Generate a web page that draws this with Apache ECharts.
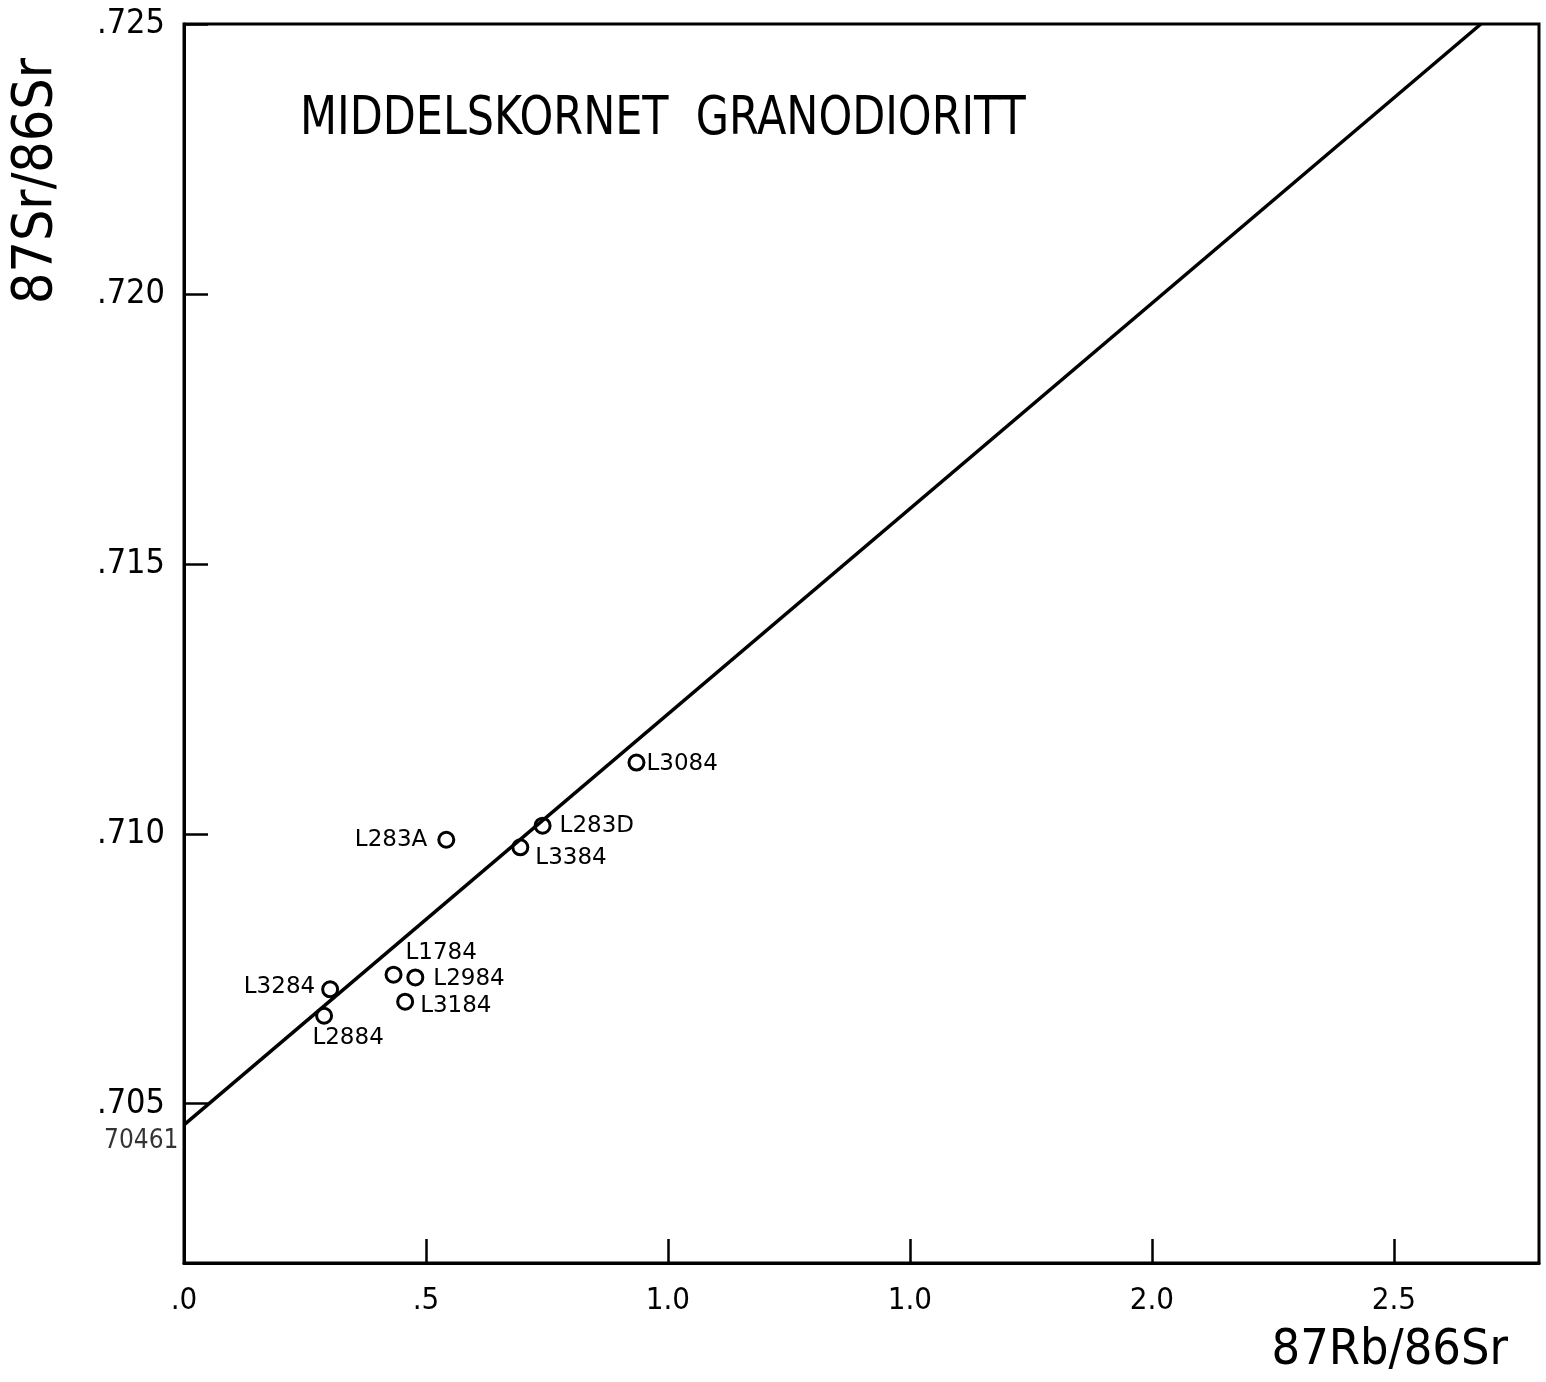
<!DOCTYPE html>
<html>
<head>
<meta charset="utf-8">
<title>Middelskornet granodioritt – Rb-Sr isokron</title>
<script src="https://cdn.jsdelivr.net/npm/echarts@6/dist/echarts.min.js"></script>
<style>
  html, body { margin: 0; padding: 0; background: #fff; }
  #chart { width: 1546px; height: 1382px; }
</style>
</head>
<body>
<div id="chart"></div>
<script>
// Sample names and measured isotope ratios
const sampleNames = ['L3084', 'L283D', 'L3384', 'L283A', 'L3284', 'L2884', 'L1784', 'L2984', 'L3184'];
const rbSr = [0.935, 0.741, 0.695, 0.542, 0.302, 0.2895, 0.433, 0.478, 0.457];   // 87Rb/86Sr
const srSr = [0.71132, 0.71015, 0.70975, 0.70989, 0.70712, 0.70663, 0.70739, 0.70734, 0.70689]; // 87Sr/86Sr

// Isochron end points (initial ratio at x = 0)
const isochronX = [0, 2.68];
const isochronY = [0.70461, 0.725];
const interceptLabel = '70461';

// Axis ticks and their printed labels
const xTickValues = [0, 0.5, 1.0, 1.5, 2.0, 2.5];
const xTickLabels = ['.0', '.5', '1.0', '1.0', '2.0', '2.5'];
const yTickValues = [0.705, 0.710, 0.715, 0.720, 0.725];
const yTickLabels = ['.705', '.710', '.715', '.720', '.725'];

const titleText = 'MIDDELSKORNET  GRANODIORITT';
const xName = '87Rb/86Sr';
const yName = '87Sr/86Sr';

// Where each sample label sits relative to its circle
const labelPlacement = {
  L3084: { position: 'right', distance: 1, offset: [0, 1] },
  L283D: { position: 'right', distance: 8, offset: [0, 0] },
  L3384: { position: 'right', distance: 6, offset: [0, 11] },
  L283A: { position: 'left', distance: 10, offset: [0, 0] },
  L3284: { position: 'left', distance: 6, offset: [0, -2] },
  L2884: { position: 'bottom', distance: 2, offset: [24, 0] },
  L1784: { position: 'right', distance: 3, offset: [0, -22] },
  L2984: { position: 'right', distance: 9, offset: [0, 2] },
  L3184: { position: 'right', distance: 6, offset: [0, 4] }
};

const INK = '#000';
const COND = '"DejaVu Sans Condensed", "DejaVu Sans", sans-serif';
const PLAIN = '"DejaVu Sans", sans-serif';

function pickLabel(values, labels, v) {
  for (let i = 0; i < values.length; i++) {
    if (Math.abs(values[i] - v) < 1e-9) return labels[i];
  }
  return '';
}

const samples = sampleNames.map((name, i) => ({
  name: name,
  value: [rbSr[i], srSr[i]],
  label: Object.assign({
    show: true, formatter: name, color: INK, fontFamily: PLAIN, fontSize: 23
  }, labelPlacement[name])
}));

const chart = echarts.init(document.getElementById('chart'), null, { renderer: 'canvas' });

chart.setOption({
  backgroundColor: '#ffffff',
  animation: false,
  grid: {
    left: 184, right: 7, top: 24, bottom: 119,
    show: true, borderColor: INK, borderWidth: 3, backgroundColor: 'transparent'
  },
  xAxis: {
    type: 'value',
    min: 0, max: 2.8,
    axisLine: { show: true, lineStyle: { color: INK, width: 3 } },
    axisTick: { show: true, inside: true, length: 24, customValues: xTickValues, lineStyle: { color: INK, width: 2.5 } },
    axisLabel: {
      show: true, margin: 22, customValues: xTickValues,
      color: INK, fontFamily: COND, fontSize: 31,
      formatter: v => pickLabel(xTickValues, xTickLabels, v)
    },
    splitLine: { show: false }
  },
  yAxis: {
    type: 'value',
    min: 0.70205, max: 0.725,
    axisLine: { show: true, lineStyle: { color: INK, width: 3 } },
    axisTick: { show: true, inside: true, length: 24, customValues: yTickValues, lineStyle: { color: INK, width: 2.5 } },
    axisLabel: {
      show: true, margin: 19, customValues: yTickValues,
      color: INK, fontFamily: COND, fontSize: 34,
      formatter: v => pickLabel(yTickValues, yTickLabels, v)
    },
    splitLine: { show: false }
  },
  graphic: [
    {
      type: 'text', x: 300, y: 120, scaleX: 0.9,
      style: { text: titleText, fill: INK, font: '53px ' + COND, textAlign: 'left', textVerticalAlign: 'middle' }
    },
    {
      type: 'text', x: 37, y: 181, rotation: Math.PI / 2,
      style: { text: yName, fill: INK, font: '55px ' + COND, textAlign: 'center', textVerticalAlign: 'middle' }
    },
    {
      type: 'text', x: 1508, y: 1351,
      style: { text: xName, fill: INK, font: '50px ' + COND, textAlign: 'right', textVerticalAlign: 'middle' }
    }
  ],
  series: [
    {
      type: 'line',
      data: isochronX.map((x, i) => [x, isochronY[i]]),
      symbol: 'none',
      lineStyle: { color: INK, width: 3.5 },
      z: 2
    },
    {
      type: 'scatter',
      data: [[isochronX[0], isochronY[0]]],
      symbolSize: 1,
      itemStyle: { color: 'rgba(0,0,0,0)' },
      clip: false,
      silent: true,
      label: {
        show: true, formatter: interceptLabel, position: 'left', distance: 5, offset: [0, 16],
        color: INK, fontFamily: COND, fontSize: 26
      },
      z: 3
    },
    {
      type: 'scatter',
      data: samples,
      symbol: 'circle',
      symbolSize: 15,
      itemStyle: { color: 'rgba(255,255,255,0)', borderColor: INK, borderWidth: 3, opacity: 1 },
      z: 4
    }
  ]
});
</script>
</body>
</html>
